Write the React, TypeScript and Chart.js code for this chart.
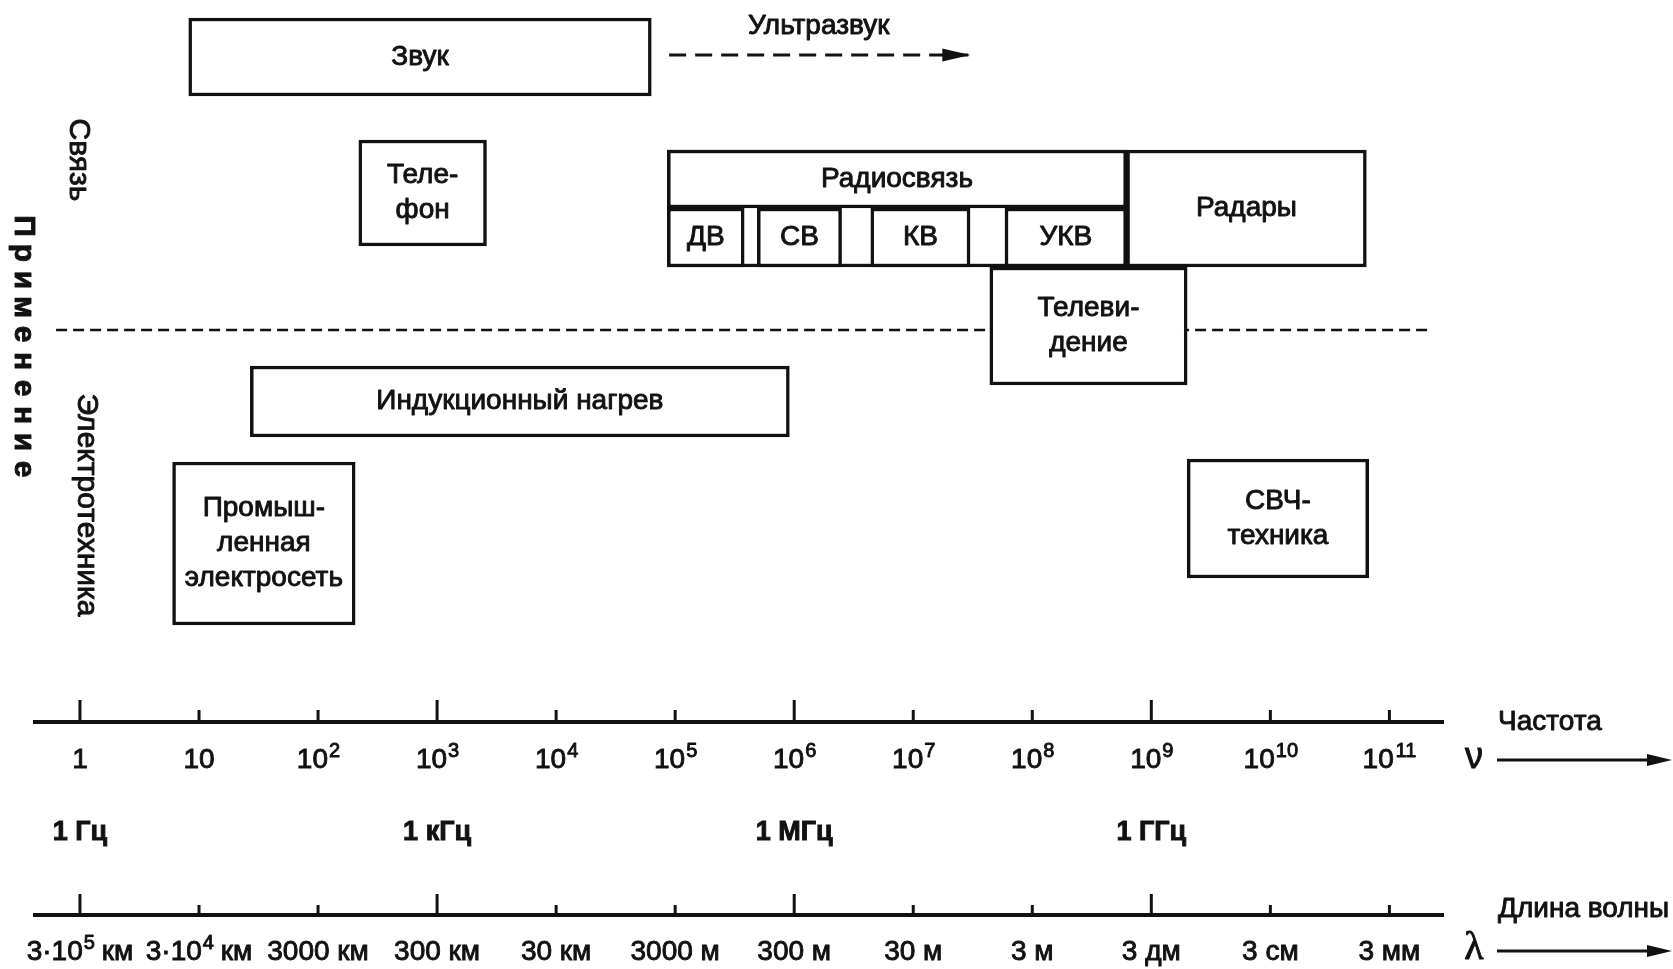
import React, { useEffect, useRef } from 'react';
import { Chart, registerables } from 'chart.js';

Chart.register(...registerables);

const INK = '#111111';
const FONT = '"Liberation Sans", Arial, Helvetica, sans-serif';
const TEXT_WEIGHT_STROKE = 0.9;

// ---- axis ticks: decades of frequency (Hz); "^" marks a superscript ----
const FREQ_DECADES = [0, 1, 2, 3, 4, 5, 6, 7, 8, 9, 10, 11];
const FREQ_TICK_LABELS = ['1', '10', '10^2', '10^3', '10^4', '10^5', '10^6', '10^7', '10^8', '10^9', '10^10', '10^11'];
const UNIT_TICK_LABELS = ['1 Гц', '', '', '1 кГц', '', '', '1 МГц', '', '', '1 ГГц', '', ''];
const WAVE_TICK_LABELS = ['3·10^5 км', '3·10^4 км', '3000 км', '300 км', '30 км', '3000 м', '300 м', '30 м', '3 м', '3 дм', '3 см', '3 мм'];
const FREQ_MIN_HZ = 0.419;
const FREQ_MAX_HZ = 2.82e11;

// ---- application bands (frequency ranges, Hz) ----
const BAND_NAMES = ['', 'Радиосвязь', 'Радары', 'ДВ', 'СВ', 'КВ', 'УКВ', 'Телеви-|дение', 'Звук', 'Теле-|фон', 'Индукционный нагрев', 'Промыш-|ленная|электросеть', 'СВЧ-|техника'];
const BAND_FROM_HZ = [8.6e4, 8.6e4, 6.2e8, 8.6e4, 4.9e5, 4.4e6, 5.9e7, 4.4e7, 8.2, 220, 27, 6, 2.0e9];
const BAND_TO_HZ = [6.2e8, 6.2e8, 6.4e10, 3.8e5, 2.5e6, 3.0e7, 6.2e8, 2.0e9, 6.3e4, 2.6e3, 9.1e5, 205, 6.7e10];

// ultrasound arrow and the Связь / Электротехника separator (Hz)
const ULTRASOUND_FROM_HZ = 8.9e4;
const ULTRASOUND_TO_HZ = 2.9e7;
const SEPARATOR_FROM_HZ = 0.63;
const SEPARATOR_TO_HZ = 2.1e11;

// ---- layout only: vertical placement of each band in plot units (0 = top) ----
const BAND_ROWS = [
  [150, 267], [150, 208], [150, 267], [208, 267], [208, 267], [208, 267], [208, 267],
  [267, 385], [18, 96], [140, 246], [366, 437], [462, 625], [459, 578],
];
const SEPARATOR_ROW = 330;
const ULTRASOUND_ROW = 55;
const PLOT_HEIGHT = 722;

const TICK_SIZE = 28;
const SUP_SIZE = 20;
const AXIS_PADDING: Record<string, number> = { x: 21, x3: 21, x2: 20 };

function splitSup(label: string) {
  const m = label.match(/^(.*?)\^(\d+)(.*)$/);
  return m ? { pre: m[1], sup: m[2], post: m[3] } : null;
}

// label text handed to Chart.js: the exponent is replaced by a blank gap
function axisText(label: string) {
  const p = splitSup(label);
  if (!p) return label;
  return p.pre + '\u2009'.repeat(p.sup.length * 2) + p.post;
}

function arrowHead(ctx: CanvasRenderingContext2D, tipX: number, y: number, len: number, half: number) {
  ctx.beginPath();
  ctx.moveTo(tipX, y);
  ctx.lineTo(tipX - len, y - half);
  ctx.lineTo(tipX - len, y + half);
  ctx.closePath();
  ctx.fill();
}

function inkText(ctx: CanvasRenderingContext2D, text: string, x: number, y: number) {
  ctx.lineWidth = TEXT_WEIGHT_STROKE;
  ctx.strokeText(text, x, y);
  ctx.fillText(text, x, y);
}

function rotatedText(ctx: CanvasRenderingContext2D, text: string, x: number, y: number) {
  ctx.save();
  ctx.translate(x, y);
  ctx.rotate(Math.PI / 2);
  inkText(ctx, text, 0, 0);
  ctx.restore();
}

const diagramPlugin = {
  id: 'diagram',
  afterDatasetsDraw(chart: any) {
    const ctx: CanvasRenderingContext2D = chart.ctx;
    ctx.save();
    ctx.fillStyle = INK;
    ctx.strokeStyle = INK;
    ctx.lineJoin = 'round';
    ctx.textAlign = 'center';
    ctx.textBaseline = 'middle';
    ctx.font = `28px ${FONT}`;
    chart.data.datasets.forEach((ds: any, i: number) => {
      if (!ds.textLines || !ds.textLines.length) return;
      const el: any = chart.getDatasetMeta(i).data[0];
      if (!el) return;
      const cx = (el.x + el.base) / 2;
      const n = ds.textLines.length;
      ds.textLines.forEach((t: string, k: number) => {
        inkText(ctx, t, cx, el.y + (k - (n - 1) / 2) * 35);
      });
    });
    const uIdx = chart.data.datasets.findIndex((d: any) => d.role === 'ultrasound');
    if (uIdx >= 0) {
      const pts: any[] = chart.getDatasetMeta(uIdx).data;
      const a = pts[0];
      const b = pts[pts.length - 1];
      arrowHead(ctx, b.x + 2, b.y, 28, 6.5);
      inkText(ctx, 'Ультразвук', (a.x + b.x) / 2, a.y - 29);
    }
    ctx.restore();
  },
  afterDraw(chart: any) {
    const ctx: CanvasRenderingContext2D = chart.ctx;
    ctx.save();
    ctx.strokeStyle = INK;
    ctx.fillStyle = INK;
    ctx.lineJoin = 'round';
    ctx.lineWidth = 3;
    // upward tick marks on both axes
    const tickSpecs: [string, number, number][] = [['x', 22, 12], ['x2', 21, 10]];
    tickSpecs.forEach(([id, longLen, shortLen]) => {
      const s = chart.scales[id];
      s.ticks.forEach((t: any, k: number) => {
        const px = s.getPixelForValue(t.value);
        const len = FREQ_DECADES[k] % 3 === 0 ? longLen : shortLen;
        ctx.beginPath();
        ctx.moveTo(px, s.top);
        ctx.lineTo(px, s.top - len);
        ctx.stroke();
      });
    });

    // superscript exponents in the tick labels, placed in the gaps of the axis labels
    const supSpecs: [string, string[]][] = [['x', FREQ_TICK_LABELS], ['x2', WAVE_TICK_LABELS]];
    supSpecs.forEach(([id, labels]) => {
      const s = chart.scales[id];
      const yc = s.top + AXIS_PADDING[id] + (TICK_SIZE * 1.2) / 2;
      s.ticks.forEach((t: any, k: number) => {
        const p = splitSup(labels[k]);
        if (!p) return;
        const px = s.getPixelForValue(t.value);
        ctx.font = `${TICK_SIZE}px ${FONT}`;
        const full = ctx.measureText(axisText(labels[k])).width;
        const preW = ctx.measureText(p.pre).width;
        const gapW = ctx.measureText('\u2009'.repeat(p.sup.length * 2)).width;
        const left = px - full / 2;
        ctx.font = `${SUP_SIZE}px ${FONT}`;
        const supW = ctx.measureText(p.sup).width;
        ctx.textAlign = 'left';
        ctx.textBaseline = 'alphabetic';
        inkText(ctx, p.sup, left + preW + (gapW - supW) / 2 + 1, yc - 3);
      });
    });

    const sx = chart.scales.x;
    const sw = chart.scales.x2;
    const labelX = sx.right + 55;
    // right-hand captions
    ctx.textBaseline = 'middle';
    ctx.textAlign = 'left';
    ctx.font = `28px ${FONT}`;
    inkText(ctx, 'Частота', labelX, sx.top);
    inkText(ctx, 'Длина волны', labelX, sw.top - 6);
    ctx.textAlign = 'center';
    ctx.font = `36px ${FONT}`;
    inkText(ctx, 'ν', labelX - 24, sx.top + 36);
    ctx.font = `40px "Liberation Serif", serif`;
    inkText(ctx, 'λ', labelX - 24, sw.top + 33);
    // arrows
    ctx.lineWidth = 3;
    const arrowRows = [sx.top + 38, sw.top + 36];
    arrowRows.forEach((y) => {
      ctx.lineWidth = 3;
      ctx.beginPath();
      ctx.moveTo(labelX - 1, y);
      ctx.lineTo(labelX + 152, y);
      ctx.stroke();
      arrowHead(ctx, labelX + 174, y, 25, 6);
    });

    // left-hand rotated captions
    ctx.textAlign = 'center';
    ctx.font = `30px ${FONT}`;
    rotatedText(ctx, 'Связь', 78, 160);
    rotatedText(ctx, 'Электротехника', 86, 505);
    ctx.font = `bold 30px ${FONT}`;
    const word = 'Применение';
    for (let k = 0; k < word.length; k++) {
      rotatedText(ctx, word[k], 23, 226 + k * 27);
    }
    ctx.restore();
  },
};

function decadeTicks(scale: any) {
  scale.ticks = FREQ_DECADES.map((e) => ({ value: Math.pow(10, e) }));
}

function bottomAxis(id: string, weight: number, height: number, labels: string[], font: any, showLine: boolean) {
  return {
    type: 'logarithmic',
    position: 'bottom',
    min: FREQ_MIN_HZ,
    max: FREQ_MAX_HZ,
    offset: false,
    weight,
    afterBuildTicks: decadeTicks,
    afterFit: (s: any) => {
      s.height = height;
    },
    grid: { display: false, drawTicks: false, offset: false },
    border: { display: showLine, width: 4, color: INK },
    ticks: {
      autoSkip: false,
      maxRotation: 0,
      minRotation: 0,
      padding: AXIS_PADDING[id],
      color: INK,
      textStrokeColor: INK,
      textStrokeWidth: TEXT_WEIGHT_STROKE,
      font,
      callback: (_v: any, i: number) => axisText(labels[i]),
    },
  };
}

export default function App() {
  const canvasRef = useRef<HTMLCanvasElement | null>(null);

  useEffect(() => {
    if (!canvasRef.current) return;

    const bandDatasets = BAND_NAMES.map((name, i) => ({
      type: 'bar',
      label: name ? name.replace(/\|/g, '') : 'Радиосвязь (диапазон)',
      data: [{ x: [BAND_FROM_HZ[i], BAND_TO_HZ[i]], y: (BAND_ROWS[i][0] + BAND_ROWS[i][1]) / 2 }],
      barThickness: BAND_ROWS[i][1] - BAND_ROWS[i][0],
      grouped: false,
      borderSkipped: false,
      borderWidth: 3.5,
      borderColor: INK,
      backgroundColor: '#ffffff',
      order: 50 - i,
      textLines: name ? name.split('|') : [],
    }));

    const chart = new Chart(canvasRef.current, {
      type: 'bar',
      data: {
        datasets: [
          {
            type: 'line',
            label: 'Граница',
            indexAxis: 'x',
            data: [
              { x: SEPARATOR_FROM_HZ, y: SEPARATOR_ROW },
              { x: SEPARATOR_TO_HZ, y: SEPARATOR_ROW },
            ],
            borderColor: INK,
            borderWidth: 2.5,
            borderDash: [11, 6],
            pointRadius: 0,
            fill: false,
            order: 100,
          },
          ...bandDatasets,
          {
            type: 'line',
            label: 'Ультразвук',
            role: 'ultrasound',
            indexAxis: 'x',
            data: [
              { x: ULTRASOUND_FROM_HZ, y: ULTRASOUND_ROW },
              { x: ULTRASOUND_TO_HZ, y: ULTRASOUND_ROW },
            ],
            borderColor: INK,
            borderWidth: 3,
            borderDash: [17, 9],
            pointRadius: 0,
            fill: false,
            order: 0,
          },
        ] as any,
      },
      options: {
        indexAxis: 'y',
        animation: false,
        responsive: true,
        maintainAspectRatio: false,
        events: [],
        layout: { padding: { left: 35, right: 230, top: 0, bottom: 0 } },
        plugins: { legend: { display: false }, tooltip: { enabled: false } },
        scales: {
          x: bottomAxis('x', 0, 73, FREQ_TICK_LABELS, { family: FONT, size: TICK_SIZE }, true),
          x3: bottomAxis('x3', 1, 120, UNIT_TICK_LABELS, { family: FONT, size: 27, weight: 'bold' }, false),
          x2: bottomAxis('x2', 2, 54, WAVE_TICK_LABELS, { family: FONT, size: TICK_SIZE }, true),
          y: {
            type: 'linear',
            min: 0,
            max: PLOT_HEIGHT,
            reverse: true,
            offset: false,
            grace: 0,
            display: false,
            grid: { offset: false },
          },
        } as any,
      } as any,
      plugins: [diagramPlugin as any],
    } as any);

    return () => chart.destroy();
  }, []);

  return (
    <div style={{ position: 'absolute', left: 0, top: 0, width: 1673, height: 969, background: '#fff' }}>
      <canvas ref={canvasRef} />
    </div>
  );
}
